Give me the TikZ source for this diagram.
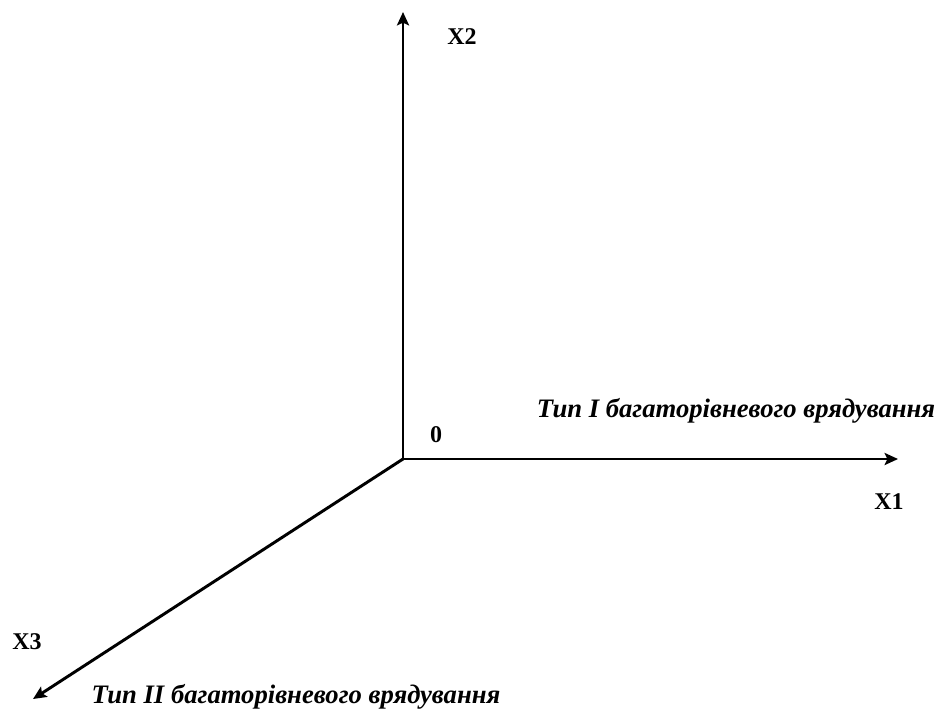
\documentclass[tikz,border=0pt]{standalone}
\usepackage{fontspec}
\setmainfont{Liberation Serif}
\usepackage{tikz}
\usetikzlibrary{arrows.meta}

\tikzset{
    axis/.style={line width=2.2pt, -{Stealth[length=10pt, width=9pt, inset=2pt]}},
    axislab/.style={font=\fontsize{18}{20}\selectfont\bfseries},
    typelab/.style={font=\fontsize{20}{24}\selectfont\bfseries\itshape}
}

\begin{document}
\begin{tikzpicture}[x=0.75pt, y=-0.75pt]
    \useasboundingbox (0,0) rectangle (937,711);
    \coordinate (O) at (403,459);
    \coordinate (x1end) at (898,459);
    \coordinate (x2end) at (403,12);
    \coordinate (x3end) at (33,699);
    \draw[axis] (O) -- (x1end);
    \draw[axis] (O) -- (x2end);
    \draw[axis] (O) -- (x3end);
    \node[axislab] (x1lab) at (889,502) {X1};
    \node[axislab] (x2lab) at (462,37) {X2};
    \node[axislab] (x3lab) at (27,642) {X3};
    \node[axislab] (zero) at (436,435) {0};
    \node[typelab] (type1) at (736,411) {Тип I багаторівневого врядування};
    \node[typelab] (type2) at (296,697) {Тип II багаторівневого врядування};
\end{tikzpicture}
\end{document}
